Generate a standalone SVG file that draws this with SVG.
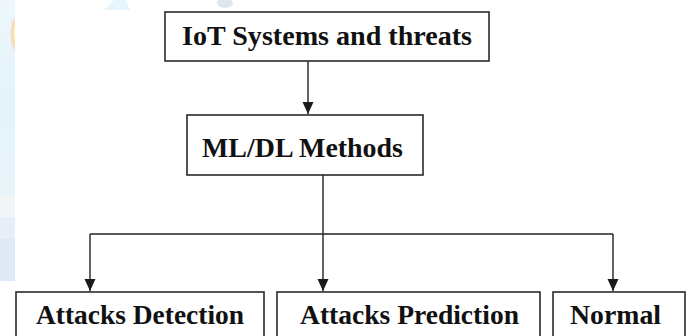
<svg xmlns="http://www.w3.org/2000/svg" width="693" height="336" viewBox="0 0 693 336">
  <style>
    .box { fill: #ffffff; stroke: #2a2a2a; stroke-width: 1.6; }
    .label { font-family: "Liberation Serif", "Times New Roman", serif; font-weight: bold; font-size: 27px; fill: #111111; }
    .wire { fill: none; stroke: #222222; stroke-width: 1.4; }
  </style>
  <defs>
    <marker id="arrow" markerUnits="userSpaceOnUse" markerWidth="12" markerHeight="12" refX="12" refY="5.5" orient="auto">
      <path d="M0,0 L12,5.5 L0,11 Z" fill="#1a1a1a"/>
    </marker>
    <linearGradient id="stripTop" x1="0" y1="0" x2="0" y2="1">
      <stop offset="0" stop-color="#eef8fc"/>
      <stop offset="0.5" stop-color="#e3f3fb"/>
      <stop offset="1" stop-color="#e8f4fa"/>
    </linearGradient>
    <radialGradient id="flame" cx="0.5" cy="0.5" r="0.5">
      <stop offset="0" stop-color="#fff6c8"/>
      <stop offset="0.6" stop-color="#fbd7a8"/>
      <stop offset="1" stop-color="#f7c9b6" stop-opacity="0"/>
    </radialGradient>
    <clipPath id="stripClip">
      <rect x="0" y="0" width="15" height="290"/>
    </clipPath>
  </defs>

  <!-- page background -->
  <rect x="0" y="0" width="693" height="336" fill="#ffffff"/>

  <!-- faint backdrop along the left and top edges -->
  <g id="backdrop">
    <g clip-path="url(#stripClip)">
      <rect x="0" y="0" width="15" height="195" fill="url(#stripTop)"/>
      <ellipse cx="15" cy="34" rx="5" ry="18" fill="url(#flame)"/>
      <rect x="0" y="195" width="15" height="22" fill="#f1f5f8"/>
      <rect x="0" y="217" width="15" height="22" fill="#e6eefa"/>
      <rect x="0" y="239" width="15" height="42" fill="#dde9f6"/>
    </g>
    <path d="M104,10 L114,0 L126,0 L130,10 Z" fill="#e6f6fc"/>
    <ellipse cx="225" cy="3" rx="8" ry="5" fill="#dfe5ee"/>
  </g>

  <!-- connectors -->
  <g id="connectors">
    <path class="wire" d="M308,61 V114" marker-end="url(#arrow)"/>
    <path class="wire" d="M323,175 V291" marker-end="url(#arrow)"/>
    <path class="wire" d="M90,234 H613"/>
    <path class="wire" d="M90,234 V291" marker-end="url(#arrow)"/>
    <path class="wire" d="M613,234 V291" marker-end="url(#arrow)"/>
  </g>

  <g id="iot-systems">
    <rect class="box" x="165" y="12" width="324" height="49"/>
    <text class="label" x="182" y="44.5" textLength="290" lengthAdjust="spacingAndGlyphs">IoT Systems and threats</text>
  </g>

  <g id="ml-dl-methods">
    <rect class="box" x="187" y="115" width="236" height="60"/>
    <text class="label" x="202" y="157" textLength="201" lengthAdjust="spacingAndGlyphs">ML/DL Methods</text>
  </g>

  <g id="attacks-detection">
    <rect class="box" x="16" y="292" width="248" height="60"/>
    <text class="label" x="36" y="324" textLength="208" lengthAdjust="spacingAndGlyphs">Attacks Detection</text>
  </g>

  <g id="attacks-prediction">
    <rect class="box" x="277" y="292" width="263" height="60"/>
    <text class="label" x="300" y="324" textLength="219" lengthAdjust="spacingAndGlyphs">Attacks Prediction</text>
  </g>

  <g id="normal">
    <rect class="box" x="553" y="292" width="132" height="60"/>
    <text class="label" x="570" y="324" textLength="91" lengthAdjust="spacingAndGlyphs">Normal</text>
  </g>
</svg>
